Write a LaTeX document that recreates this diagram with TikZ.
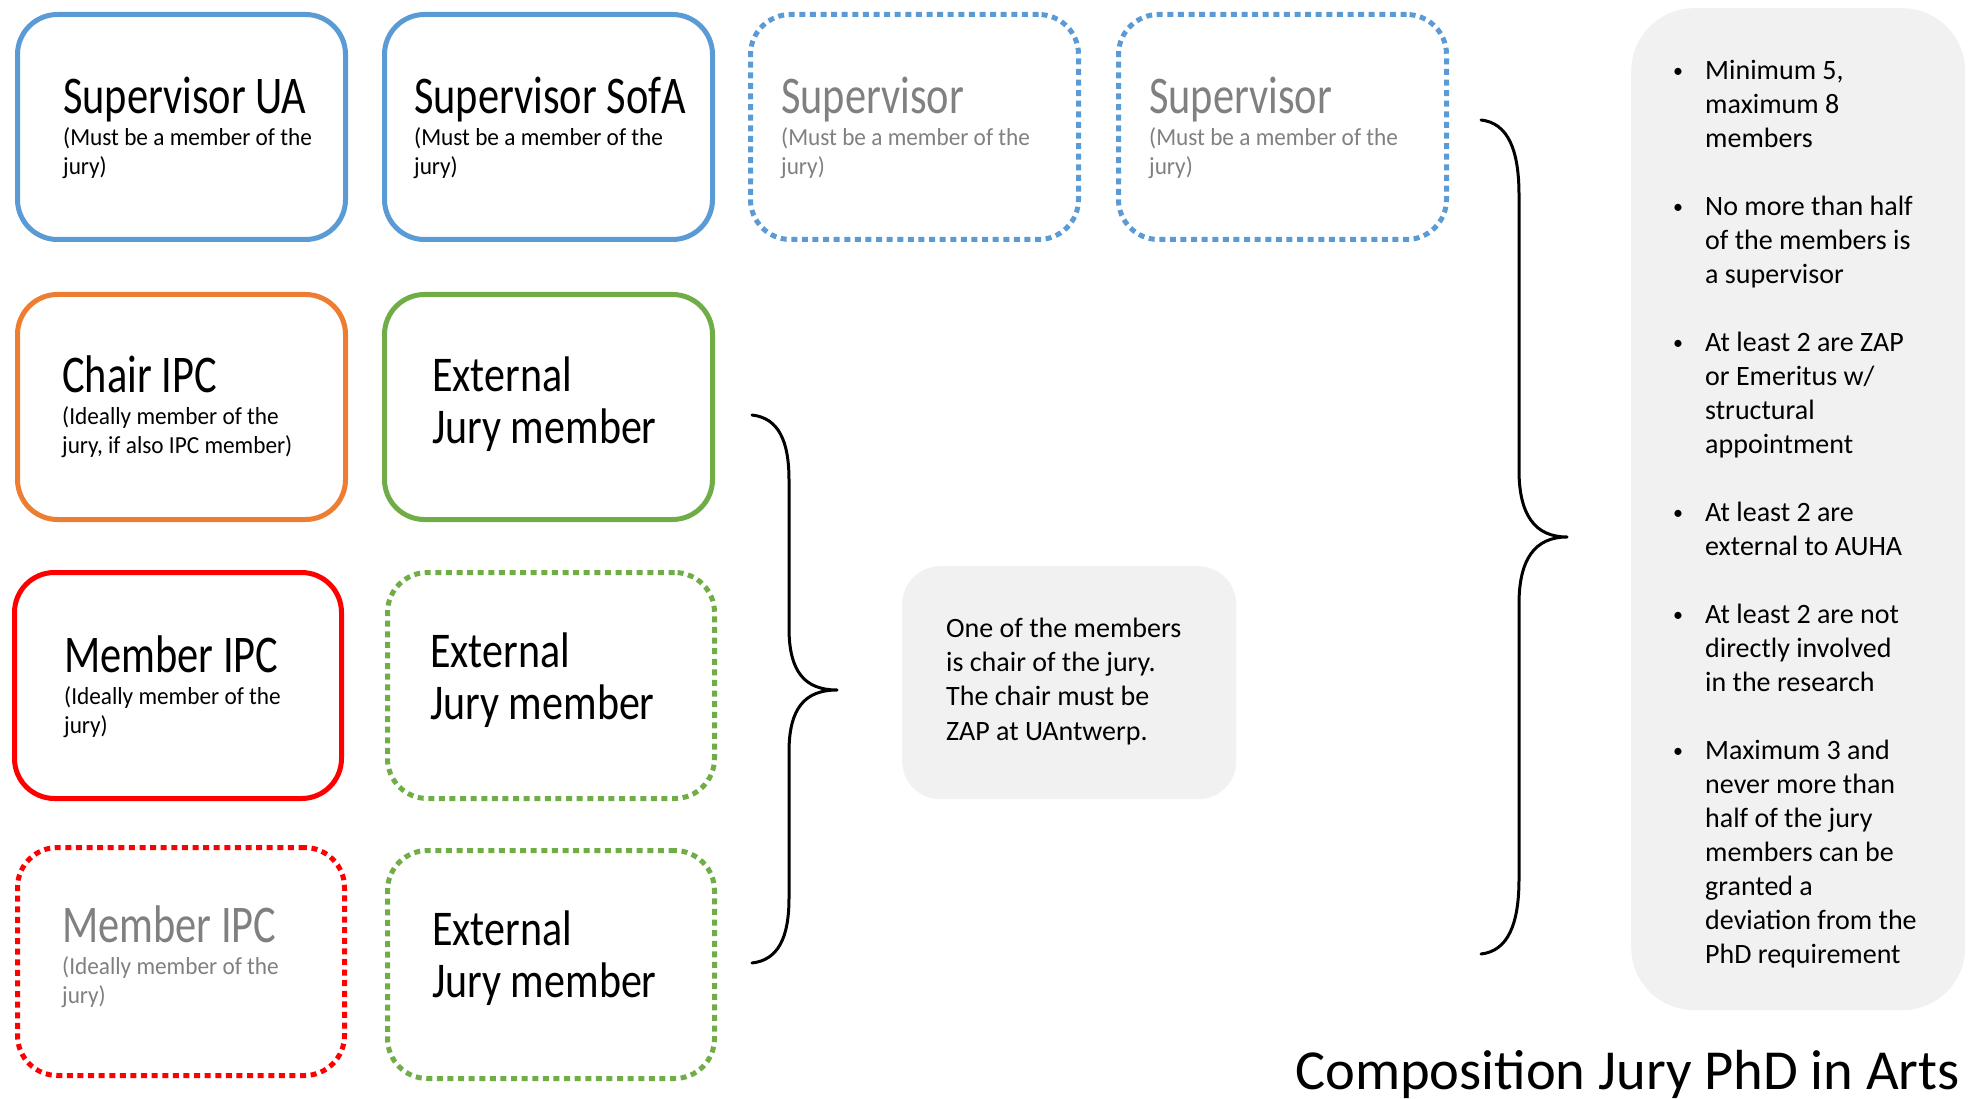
\documentclass[tikz,border=0pt]{standalone}
\usepackage{fontspec}
\setmainfont{Carlito}
\newfontfamily\ttlfont{Carlito}[FakeStretch=0.8]
\newfontfamily\extfont{Carlito}[FakeStretch=0.84]
\newfontfamily\subfont{Carlito}[FakeStretch=0.95]
\definecolor{ublue}{HTML}{5B9BD5}
\definecolor{uorange}{HTML}{ED7D31}
\definecolor{ugreen}{HTML}{70AD47}
\definecolor{ured}{HTML}{FF0000}
\definecolor{ugraytxt}{HTML}{808080}
\definecolor{ugrayfill}{HTML}{F1F1F1}
\tikzset{
  jbox/.style={draw, line width=5pt, rounded corners=40pt, anchor=north west, inner sep=0pt},
  dotted box/.style={jbox, dash pattern=on 6pt off 4.6pt},
  ttl/.style={font=\ttlfont\fontsize{53}{60}\selectfont, inner sep=0pt, anchor=base west},
  ext/.style={font=\extfont\fontsize{50}{52}\selectfont, inner sep=0pt, anchor=base west, align=left},
  sub/.style={font=\subfont\fontsize{24.5}{29}\selectfont, inner sep=0pt, anchor=base west, align=left},
  note/.style={fill=ugrayfill, draw=none, anchor=north west, inner sep=0pt},
  brace/.style={line width=3pt, line cap=round, line join=round},
}
\newcommand{\smbullet}{\raisebox{2pt}{\fontsize{20}{20}\selectfont\textbullet}}
\begin{document}
\begin{tikzpicture}[x=1pt,y=-1pt]
\useasboundingbox (0,0) rectangle (1973,1099);

% row 1
\node[jbox, draw=ublue, minimum width=328pt, minimum height=225pt] (b11) at (15,12) {};
\node[jbox, draw=ublue, minimum width=328pt, minimum height=225pt] (b12) at (382,12) {};
\node[dotted box, draw=ublue, minimum width=328pt, minimum height=225pt] (b13) at (748,12) {};
\node[dotted box, draw=ublue, minimum width=328pt, minimum height=225pt] (b14) at (1116,12) {};
% row 2
\node[jbox, draw=uorange, minimum width=328pt, minimum height=225pt] (b21) at (15,292) {};
\node[jbox, draw=ugreen, minimum width=328pt, minimum height=225pt] (b22) at (382,292) {};
% row 3
\node[jbox, draw=ured, minimum width=327pt, minimum height=226pt] (b31) at (12,570) {};
\node[dotted box, draw=ugreen, minimum width=327pt, minimum height=226pt] (b32) at (385,570) {};
% row 4
\node[dotted box, draw=ured, minimum width=327pt, minimum height=228pt] (b41) at (15,845) {};
\node[dotted box, draw=ugreen, minimum width=327pt, minimum height=228pt] (b42) at (385,848) {};

% texts row 1 (multi-line nodes are anchored at their last baseline)
\node[ttl] (t11) at (63,114) {Supervisor UA};
\node[sub] (s11) at (63,175) {(Must be a member of the\\jury)};
\node[ttl] (t12) at (414,114) {Supervisor SofA};
\node[sub] (s12) at (414,175) {(Must be a member of the\\jury)};
\node[ttl, text=ugraytxt] (t13) at (781,114) {Supervisor};
\node[sub, text=ugraytxt] (s13) at (781,175) {(Must be a member of the\\jury)};
\node[ttl, text=ugraytxt] (t14) at (1149,114) {Supervisor};
\node[sub, text=ugraytxt] (s14) at (1149,175) {(Must be a member of the\\jury)};
% texts row 2
\node[ttl] (t21) at (62,392) {Chair IPC};
\node[sub] (s21) at (62,453) {(Ideally member of the\\jury, if also IPC member)};
\node[ext] (t22) at (432,443) {External\\Jury member};
% texts row 3
\node[ttl] (t31) at (64,672) {Member IPC};
\node[sub] (s31) at (64,733) {(Ideally member of the\\jury)};
\node[ext] (t32) at (430,719) {External\\Jury member};
% texts row 4
\node[ttl, text=ugraytxt] (t41) at (62,942) {Member IPC};
\node[sub, text=ugraytxt] (s41) at (62,1003) {(Ideally member of the\\jury)};
\node[ext] (t42) at (432,997) {External\\Jury member};

% middle brace
\draw[brace] (752,415) .. controls (778,418) and (789,440) .. (789,480)
  -- (789,628) .. controls (789,672) and (805,690) .. (837,690)
  .. controls (805,690) and (789,708) .. (789,752)
  -- (789,898) .. controls (789,938) and (778,960) .. (752,963);

% middle note
\node[note, minimum width=334pt, minimum height=233pt, rounded corners=38pt] (chairnote) at (902,566) {};
\node[font=\fontsize{28}{34.3}\selectfont, inner sep=0pt, anchor=base west, align=left] (chairtext) at (946,740)
  {One of the members\\is chair of the jury.\\The chair must be\\ZAP at UAntwerp.};

% right brace
\draw[brace] (1481,120) .. controls (1508,123) and (1519,150) .. (1519,195)
  -- (1519,470) .. controls (1519,515) and (1535,537) .. (1567,537)
  .. controls (1535,537) and (1519,559) .. (1519,604)
  -- (1519,879) .. controls (1519,924) and (1508,951) .. (1481,954);

% rules box
\node[note, minimum width=334pt, minimum height=1002pt, rounded corners=63pt] (rules) at (1631,8) {};
\node[font=\fontsize{28}{34}\selectfont, inner sep=0pt, anchor=base west] (rulestext) at (1673,80)
  {\begin{tabular}[t]{@{}p{32pt}@{}l@{}}
  \smbullet & Minimum 5,\\
  & maximum 8\\
  & members\\
  &\\
  \smbullet & No more than half\\
  & of the members is\\
  & a supervisor\\
  &\\
  \smbullet & At least 2 are ZAP\\
  & or Emeritus w/\\
  & structural\\
  & appointment\\
  &\\
  \smbullet & At least 2 are\\
  & external to AUHA\\
  &\\
  \smbullet & At least 2 are not\\
  & directly involved\\
  & in the research\\
  &\\
  \smbullet & Maximum 3 and\\
  & never more than\\
  & half of the jury\\
  & members can be\\
  & granted a\\
  & deviation from the\\
  & PhD requirement
  \end{tabular}};

% title
\node[font=\fontsize{56.5}{64}\selectfont, inner sep=0pt, anchor=base east] (title) at (1960,1089) {Composition Jury PhD in Arts};
\end{tikzpicture}
\end{document}
